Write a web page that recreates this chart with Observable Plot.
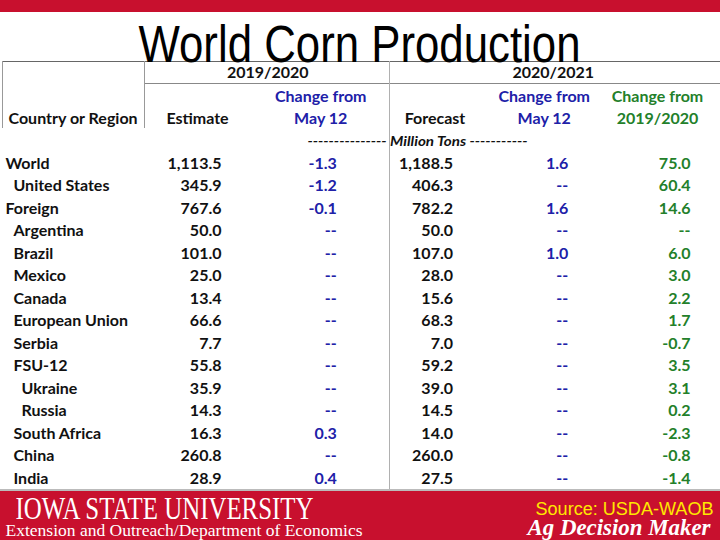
<!DOCTYPE html>
<html>
<head>
<meta charset="utf-8">
<script src="https://cdn.jsdelivr.net/npm/d3@7"></script>
<script src="https://cdn.jsdelivr.net/npm/@observablehq/plot@0.6"></script>
<style>
  body { margin: 0; background: #fff; }
  #slide { position: relative; width: 720px; height: 540px; overflow: hidden; background: #fff; }
  .deco { position: absolute; }
  #chart { position: absolute; left: 0; top: 0; }
  #chart svg { background: transparent; }
</style>
</head>
<body>
<div id="slide">
  <div class="deco" style="left:0;top:0;width:720px;height:12px;background:#c8102e"></div>
  <div class="deco" style="left:2px;top:61px;width:718px;height:1px;background:#666"></div>
  <div class="deco" style="left:2px;top:61px;width:1px;height:67px;background:#999"></div>
  <div class="deco" style="left:144px;top:61px;width:1px;height:67px;background:#999"></div>
  <div class="deco" style="left:145px;top:83px;width:575px;height:1px;background:#888"></div>
  <div class="deco" style="left:389px;top:61px;width:1px;height:429px;background:#b0b0b0"></div>
  <div class="deco" style="left:0;top:489px;width:720px;height:2px;background:#bbb"></div>
  <div class="deco" style="left:0;top:491px;width:720px;height:49px;background:#c8102e"></div>
  <div id="chart"></div>
</div>
<script>
// ---- data ----
const regions = ["World", "United States", "Foreign", "Argentina", "Brazil", "Mexico", "Canada",
  "European Union", "Serbia", "FSU-12", "Ukraine", "Russia", "South Africa", "China", "India"];
const indentLevel = [0, 1, 0, 1, 1, 1, 1, 1, 1, 1, 2, 2, 1, 1, 1];
const estimate2019 = [1113.5, 345.9, 767.6, 50.0, 101.0, 25.0, 13.4, 66.6, 7.7, 55.8, 35.9, 14.3, 16.3, 260.8, 28.9];
const changeMay2019 = [-1.3, -1.2, -0.1, null, null, null, null, null, null, null, null, null, 0.3, null, 0.4];
const forecast2020 = [1188.5, 406.3, 782.2, 50.0, 107.0, 28.0, 15.6, 68.3, 7.0, 59.2, 39.0, 14.5, 14.0, 260.0, 27.5];
const changeMay2020 = [1.6, null, 1.6, null, 1.0, null, null, null, null, null, null, null, null, null, null];
const changeYear = [75.0, 60.4, 14.6, null, 6.0, 3.0, 2.2, 1.7, -0.7, 3.5, 3.1, 0.2, -2.3, -0.8, -1.4];

const columns = ["Estimate", "ChgMay2019", "Forecast", "ChgMay2020", "ChgYear"];
const headerLine1 = ["", "Change from", "", "Change from", "Change from"];
const headerLine2 = ["Estimate", "May 12", "Forecast", "May 12", "2019/2020"];
const yearLabels = ["2019/2020", "2020/2021"];
const yearColumns = ["ChgMay2019", "ChgMay2020"];
const unitLabel = "--------------- Million Tons -----------";
const titleText = "World Corn Production";
const sourceText = "Source: USDA-WAOB";

// ---- table built from the arrays ----
const series = [estimate2019, changeMay2019, forecast2020, changeMay2020, changeYear];
const rows = regions.map((r, i) => {
  const o = {region: r, level: indentLevel[i]};
  columns.forEach((c, j) => o[c] = series[j][i]);
  return o;
});

// ---- styles / layout ----
const BLACK = "#111", BLUE = "#2020a8", GREEN = "#23802a";
const colFill = [BLACK, BLUE, BLACK, BLUE, GREEN];
const dataDx = [0, -2, -3, -5, 0];
const headerDx = [-24, -18, -21, -29, -33];
const yearDx = [-71, -20];
const locale = d3.formatLocale({decimal: ".", thousands: ",", grouping: [3], currency: ["$", ""], minus: "-"});
const f1 = locale.format(",.1f");
const fmt = v => v == null ? "--" : f1(v);
const F = "Lato, 'Open Sans', sans-serif";
const FS = 16;
const common = {fontFamily: F, fontWeight: "bold", fontSize: FS, lineAnchor: "middle"};

const marks = [];
// country labels
[0, 1, 2].forEach(k => {
  marks.push(Plot.text(rows.filter(d => d.level === k), {
    ...common, y: "region", text: "region", frameAnchor: "left", textAnchor: "start",
    dx: 5 + 8 * k, fill: BLACK
  }));
});
// values and column headers
columns.forEach((c, j) => {
  marks.push(Plot.text(rows, {
    ...common, x: () => c, y: "region", text: d => fmt(d[c]), textAnchor: "end",
    dx: dataDx[j], fill: colFill[j]
  }));
  if (headerLine1[j]) marks.push(Plot.text([headerLine1[j]], {
    ...common, x: () => c, text: d => d, frameAnchor: "top", dy: 96, dx: headerDx[j], fill: colFill[j]
  }));
  marks.push(Plot.text([headerLine2[j]], {
    ...common, x: () => c, text: d => d, frameAnchor: "top", dy: 118, dx: headerDx[j], fill: colFill[j]
  }));
});
yearLabels.forEach((lab, i) => {
  marks.push(Plot.text([lab], {
    ...common, x: () => yearColumns[i], text: d => d, frameAnchor: "top", dy: 72, dx: yearDx[i], fill: BLACK
  }));
});
marks.push(Plot.text(["Country or Region"], {
  ...common, text: d => d, frameAnchor: "top-left", dx: 8, dy: 118, textAnchor: "start", fill: BLACK
}));
marks.push(Plot.text([unitLabel], {
  text: d => d, frameAnchor: "top-left", textAnchor: "start", dx: 307, dy: 141, lineAnchor: "middle", fill: BLACK,
  fontFamily: F, fontStyle: "italic", fontWeight: "bold", fontSize: 14
}));
// title & footer
marks.push(Plot.text([titleText], {
  text: d => d, frameAnchor: "top", dx: -1, dy: 61, lineAnchor: "bottom",
  fill: "#000", fontFamily: "'Liberation Sans', Arial, sans-serif", fontSize: 51
}));
marks.push(Plot.text(["Iowa State University"], {
  text: d => d.toUpperCase(), frameAnchor: "top-left", textAnchor: "start", dx: 15, dy: 518, lineAnchor: "bottom",
  fill: "#fff", fontFamily: "'Liberation Serif', 'DejaVu Serif', serif", fontSize: 31, fontVariant: "small-caps"
}));
marks.push(Plot.text(["Extension and Outreach/Department of Economics"], {
  text: d => d, frameAnchor: "top-left", textAnchor: "start", dx: 5, dy: 535, lineAnchor: "bottom",
  fill: "#fff", fontFamily: "'Liberation Serif', 'DejaVu Serif', serif", fontSize: 16
}));
marks.push(Plot.text([sourceText], {
  text: d => d, frameAnchor: "top-right", textAnchor: "end", dx: -7, dy: 514, lineAnchor: "bottom",
  fill: "#ffe800", fontFamily: "'Liberation Sans', Arial, sans-serif", fontSize: 18
}));
marks.push(Plot.text(["Ag Decision Maker"], {
  text: d => d, frameAnchor: "top-right", textAnchor: "end", dx: -10, dy: 534, lineAnchor: "bottom",
  fill: "#fff", fontFamily: "'Liberation Serif', 'DejaVu Serif', serif", fontSize: 23,
  fontStyle: "italic", fontWeight: "bold"
}));

const chart = Plot.plot({
  width: 720, height: 540, margin: 0,
  style: {background: "transparent"},
  x: {type: "point", domain: columns, range: [221, 690], padding: 0, round: false, axis: null},
  y: {type: "point", domain: regions, range: [163, 478], padding: 0, round: false, axis: null},
  marks
});
document.getElementById("chart").append(chart);

// fit a few decorative texts to the reference widths
const fitWidths = {
  [titleText]: 442,
  "IOWA STATE UNIVERSITY": 298,
  "Extension and Outreach/Department of Economics": 357,
  [sourceText]: 178,
  "Ag Decision Maker": 183,
  [unitLabel]: 220
};
chart.querySelectorAll("text").forEach(t => {
  const w = fitWidths[t.textContent];
  if (w) { t.setAttribute("textLength", w); t.setAttribute("lengthAdjust", "spacingAndGlyphs"); }
});
</script>
</body>
</html>
